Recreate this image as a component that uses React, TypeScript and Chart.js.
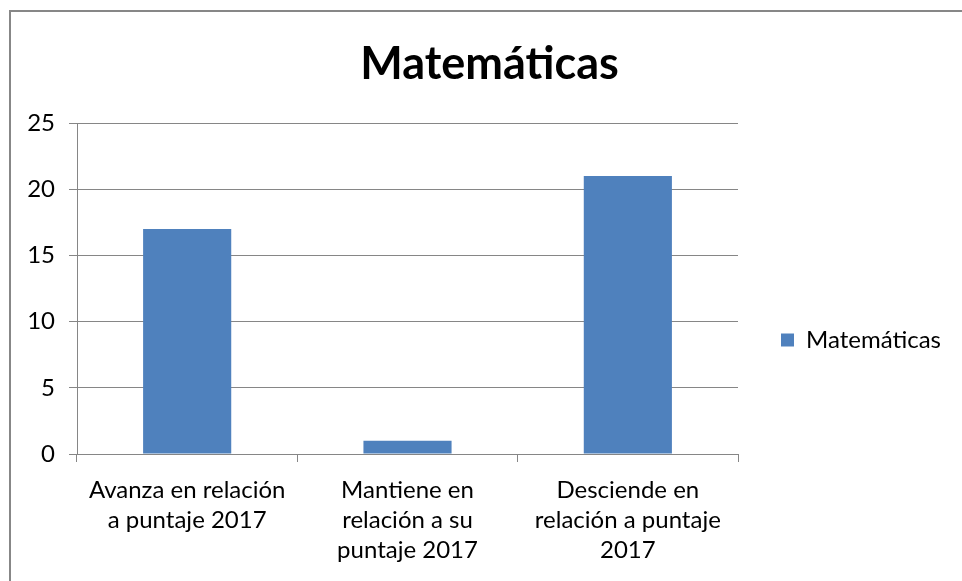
import React, { useEffect, useRef } from "react";
import { Chart, registerables } from "chart.js";

Chart.register(...registerables);

const categories: string[][] = [
  ["Avanza en relación", "a puntaje 2017"],
  ["Mantiene en", "relación a su", "puntaje 2017"],
  ["Desciende en", "relación a puntaje", "2017"],
];
const seriesName = "Matemáticas";
const seriesValues: number[] = [17, 1, 21];
const yTicks = { min: 0, max: 25, step: 5 };

const FONT = "Lato, 'Open Sans', sans-serif";
const GRID = "#868686";
const BAR = "#4F81BD";

export default function App() {
  const ref = useRef<HTMLCanvasElement | null>(null);
  useEffect(() => {
    let chart: Chart | null = null;
    let cancelled = false;
    const build = () => {
      if (cancelled || !ref.current) return;
      chart = new Chart(ref.current, {
        type: "bar",
        data: {
          labels: categories,
          datasets: [
            {
              label: seriesName,
              data: seriesValues,
              backgroundColor: BAR,
              borderWidth: 0,
              categoryPercentage: 1,
              barPercentage: 0.4,
            },
          ],
        },
        options: {
          responsive: false,
          animation: false,
          layout: { padding: { left: 17, right: 20, top: 0, bottom: 4 } },
          plugins: {
            tooltip: { enabled: false },
            title: {
              display: true,
              text: "Matemáticas",
              color: "#000",
              font: { family: FONT, size: 45, weight: "bold", lineHeight: 1.2 },
              padding: { top: 25, bottom: 32 },
            },
            legend: {
              position: "right",
              maxWidth: 300,
              title: {
                display: true,
                text: "",
                font: { family: FONT, size: 10, lineHeight: 1 },
                padding: { top: 80, bottom: 0 },
              },
              labels: {
                color: "#000",
                font: { family: FONT, size: 24 },
                boxWidth: 13,
                boxHeight: 13,
                padding: 10,
              },
            },
          },
          scales: {
            x: {
              grid: {
                display: true,
                offset: true,
                drawOnChartArea: false,
                drawTicks: true,
                tickLength: 8,
                color: GRID,
              },
              border: { display: true, color: GRID, width: 1 },
              ticks: {
                color: "#000",
                font: { family: FONT, size: 24, lineHeight: 1.25 },
                padding: 13,
                maxRotation: 0,
                autoSkip: false,
              },
              afterFit: (scale: any) => {
                scale.paddingLeft = 0;
                scale.paddingRight = 0;
              },
            },
            y: {
              min: yTicks.min,
              max: yTicks.max,
              grid: { color: GRID, tickLength: 8, drawTicks: true },
              border: { display: true, color: GRID, width: 1 },
              ticks: {
                stepSize: yTicks.step,
                color: "#000",
                font: { family: FONT, size: 24 },
                padding: 14,
              },
              afterFit: (scale: any) => {
                scale.width = 49;
              },
            },
            yGap: {
              type: "linear",
              position: "right",
              display: true,
              grid: { display: false },
              border: { display: false },
              ticks: { display: false },
              afterFit: (scale: any) => {
                scale.width = 33;
              },
            },
          },
        },
      });
    };
    const fonts: any = (document as any).fonts;
    if (fonts && fonts.load) {
      Promise.all([
        fonts.load("24px Lato"),
        fonts.load("bold 45px Lato"),
        fonts.load("10px Lato"),
      ])
        .catch(() => null)
        .then(() => build());
    } else {
      build();
    }
    return () => {
      cancelled = true;
      if (chart) chart.destroy();
    };
  }, []);

  return (
    <div
      style={{
        position: "fixed",
        left: 0,
        top: 0,
        width: 962,
        height: 581,
        overflow: "hidden",
        background: "#fff",
      }}
    >
      <div
        style={{
          position: "absolute",
          left: 9,
          top: 10,
          width: 962,
          height: 580,
          border: "2px solid #878787",
          background: "#fff",
        }}
      >
        <canvas ref={ref} width={960} height={570} style={{ display: "block" }} />
      </div>
    </div>
  );
}
